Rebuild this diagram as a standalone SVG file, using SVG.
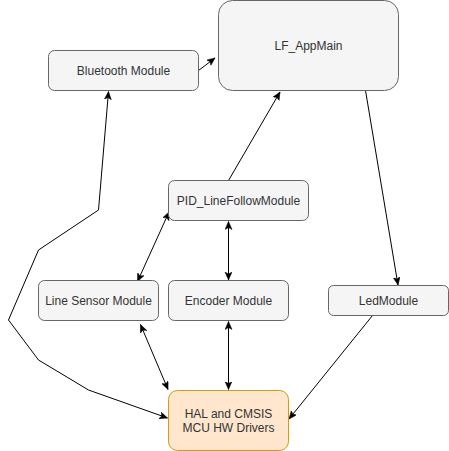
<svg xmlns="http://www.w3.org/2000/svg" width="449" height="451" viewBox="0 0 449 451">
<style>
.n{fill:#f5f5f5;stroke:#666666;stroke-width:1}
.h{fill:#ffe6cc;stroke:#d79b00;stroke-width:1}
.t{font-family:"Liberation Sans",Arial,sans-serif;font-size:12px;fill:#333333;text-anchor:middle;dominant-baseline:central}
.c{fill:none;stroke:#000000;stroke-width:1}
</style>
<defs>
<marker id="a" markerUnits="userSpaceOnUse" markerWidth="10" markerHeight="8" refX="8" refY="3.5" orient="auto-start-reverse" viewBox="0 0 10 8">
<path d="M0,0 L8,3.5 L0,7 L2,3.5 Z" fill="#000000" stroke="#000000" stroke-width="0.5"/>
</marker>
</defs>
<rect width="449" height="451" fill="#ffffff"/>
<g id="connectors">
<path class="c" d="M198.5,70.5 L215,58" marker-end="url(#a)"/>
<path class="c" d="M228.5,180.5 L280,92" marker-end="url(#a)"/>
<path class="c" d="M365.5,90.5 L398,285" marker-end="url(#a)"/>
<path class="c" d="M169,212 L137.5,281.5" marker-start="url(#a)" marker-end="url(#a)"/>
<path class="c" d="M228.5,221.5 L228.5,280" marker-start="url(#a)" marker-end="url(#a)"/>
<path class="c" d="M140.5,324.5 L168,389.5" marker-start="url(#a)" marker-end="url(#a)"/>
<path class="c" d="M228.5,321.5 L228.5,389.5" marker-start="url(#a)" marker-end="url(#a)"/>
<path class="c" d="M372.5,315.5 L289,419" marker-end="url(#a)"/>
<path class="c" d="M108.5,91.5 L98.5,210 L38.5,250 L8.5,320 L38.5,360 L88.5,390 L167.5,418" marker-start="url(#a)" marker-end="url(#a)"/>
</g>
<g id="bluetooth">
<rect class="n" x="48.5" y="50.5" width="150" height="40" rx="6"/>
<text class="t" x="123.5" y="70.5">Bluetooth Module</text>
</g>
<g id="lfappmain">
<rect class="n" x="218.5" y="0.5" width="180" height="90" rx="14"/>
<text class="t" x="308.5" y="45.5">LF_AppMain</text>
</g>
<g id="pid">
<rect class="n" x="168.5" y="180.5" width="140" height="40" rx="6"/>
<text class="t" x="238.5" y="200.5">PID_LineFollowModule</text>
</g>
<g id="linesensor">
<rect class="n" x="38.5" y="280.5" width="120" height="40" rx="6"/>
<text class="t" x="98.5" y="300.5">Line Sensor Module</text>
</g>
<g id="encoder">
<rect class="n" x="168.5" y="280.5" width="120" height="40" rx="6"/>
<text class="t" x="228.5" y="300.5">Encoder Module</text>
</g>
<g id="led">
<rect class="n" x="328.5" y="285.5" width="120" height="30" rx="5"/>
<text class="t" x="388.5" y="300.5">LedModule</text>
</g>
<g id="hal">
<rect class="h" x="168.5" y="390.5" width="120" height="60" rx="9"/>
<text class="t" x="228.5" y="413.5">HAL and CMSIS</text>
<text class="t" x="228.5" y="427.5">MCU HW Drivers</text>
</g>
</svg>
